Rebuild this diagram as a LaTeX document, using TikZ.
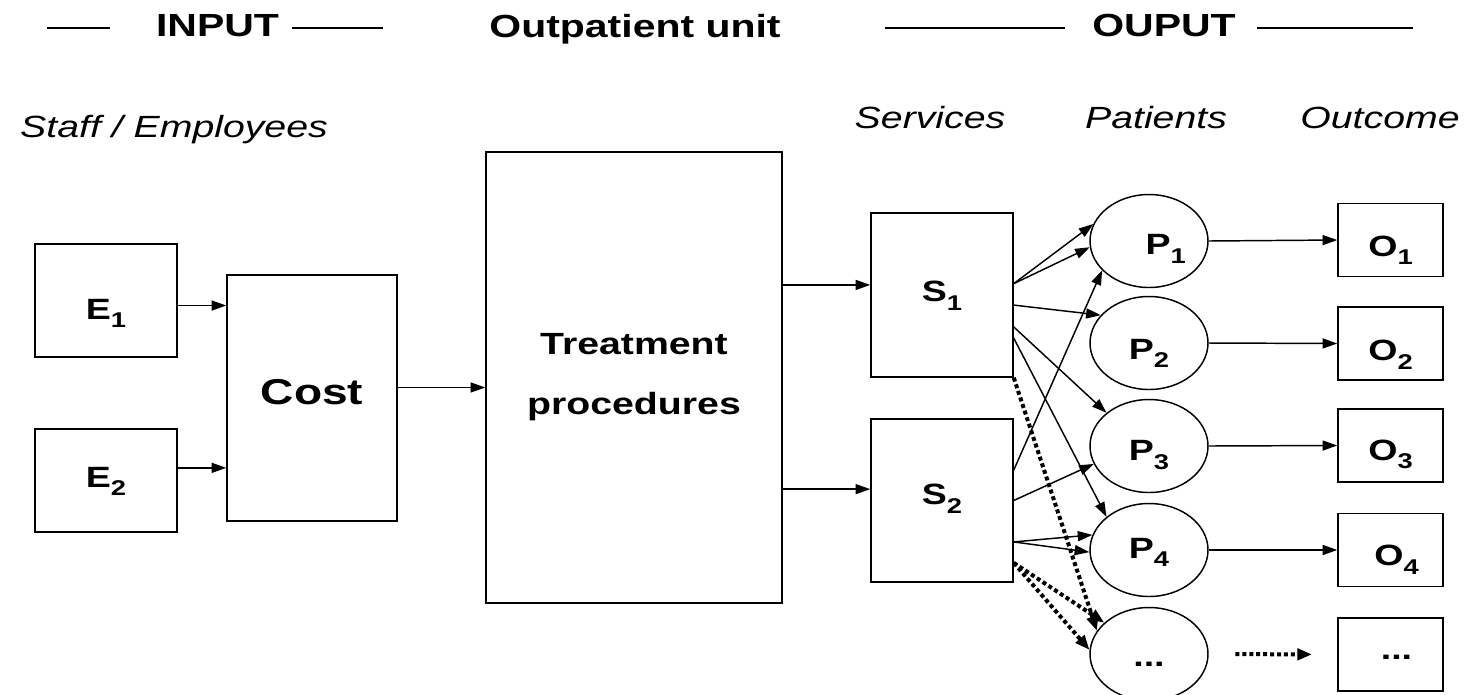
\documentclass[tikz,border=0pt]{standalone}
\usepackage{fontspec}
\setmainfont{Liberation Sans}
\usetikzlibrary{shapes.geometric}
\usetikzlibrary{arrows.meta}
\newcommand{\widetxt}[1]{\scalebox{1.28}[1]{#1}}
\newcommand{\boxlbl}[2]{\raisebox{#1}[0pt][0pt]{\widetxt{#2}}}
\newcommand{\sbs}[1]{\raisebox{-0.3em}{\fontsize{16}{18}\selectfont #1}}

\begin{document}
\begin{tikzpicture}[x=0.75pt,y=0.75pt,yscale=-1,xscale=1,
  box/.style={draw, line width=1.1pt, inner sep=0pt},
  lab/.style={font=\fontsize{22}{26}\selectfont\bfseries},
  pat/.style={ellipse, draw, line width=1.1pt, inner sep=0pt, minimum width=88.5pt, minimum height=69.75pt, lab},
  outc/.style={box, minimum width=78.75pt, minimum height=54.5pt, lab},
  arr/.style={line width=1.1pt, -{Triangle[length=11pt,width=7.5pt]}},
  dotarr/.style={line width=3pt, dash pattern=on 3pt off 2.2pt, -{Triangle[length=11pt,width=8.5pt]}},
  head/.style={font=\fontsize{24}{28}\selectfont\bfseries, anchor=base},
  sub/.style={font=\fontsize{23}{28}\selectfont\itshape, anchor=base}]
\useasboundingbox (0,0) rectangle (1472,694);

% Header
\draw[line width=1.1pt] (47,28) -- (110,28);
\node[head] (hin) at (217.5,36) {\widetxt{INPUT}};
\draw[line width=1.1pt] (292,28) -- (383,28);
\node[head] (hunit) at (635,37) {\widetxt{Outpatient unit}};
\draw[line width=1.1pt] (885,28) -- (1065,28);
\node[head] (hout) at (1164,36) {\widetxt{OUPUT}};
\draw[line width=1.1pt] (1257,28) -- (1413,28);

% Text Node
\node[sub] (staff) at (174,137) {\widetxt{Staff / Employees}};
\node[sub] (serv) at (930,128) {\widetxt{Services}};
\node[sub] (pats) at (1156,128) {\widetxt{Patients}};
\node[sub] (outcm) at (1380,128) {\widetxt{Outcome}};

% Input
\node[box, lab, minimum width=106.5pt, minimum height=84.75pt] (E1) at (106,300.5) {\boxlbl{-14pt}{E\sbs{1}}};
\node[box, lab, minimum width=106.5pt, minimum height=77.25pt] (E2) at (106,480.5) {\boxlbl{-5pt}{E\sbs{2}}};
\node[box, minimum width=127.5pt, minimum height=184.5pt, font=\fontsize{27}{32}\selectfont\bfseries] (cost) at (312,398) {\boxlbl{-4.6pt}{Cost}};
\node[box, align=center, minimum width=222pt, minimum height=338.25pt, font=\fontsize{23}{45}\selectfont\bfseries] (treat) at (634,377.5) {\widetxt{Treatment}\\\widetxt{procedures}};

% Services
\node[box, lab, minimum width=106.5pt, minimum height=123pt] (S1) at (942,295) {\boxlbl{-5pt}{S\sbs{1}}};
\node[box, lab, minimum width=106.5pt, minimum height=122.25pt] (S2) at (942,500.5) {\boxlbl{-3pt}{S\sbs{2}}};

% Patients
\node[pat] (P1) at (1149,241) {\hspace*{25pt}\boxlbl{-10pt}{P\sbs{1}}};
\node[pat] (P2) at (1149,343) {\boxlbl{-12pt}{P\sbs{2}}};
\node[pat] (P3) at (1149,446) {\boxlbl{-11pt}{P\sbs{3}}};
\node[pat] (P4) at (1149,550) {\boxlbl{-6pt}{P\sbs{4}}};
\node[pat] (P5) at (1149,654) {\boxlbl{-9pt}{...}};

% Outcome
\node[outc] (O1) at (1390.5,240) {\boxlbl{-12pt}{O\sbs{1}}};
\node[outc] (O2) at (1390.5,343.5) {\boxlbl{-13pt}{O\sbs{2}}};
\node[outc] (O3) at (1390.5,445.5) {\boxlbl{-11pt}{O\sbs{3}}};
\node[outc] (O4) at (1390.5,550) {\hspace*{9pt}\boxlbl{-11.5pt}{O\sbs{4}}};
\node[outc] (O5) at (1390.5,654.5) {\hspace*{9pt}\boxlbl{-4pt}{...}};

% Arrows
\draw[arr] (E1.356) -- (E1.356 -| cost.west);
\draw[arr] (E2.10) -- (E2.10 -| cost.west);
\draw[arr] (cost.7) -- (cost.7 -| treat.west);
\draw[arr] (treat.east |- S1.172) -- (S1.172);
\draw[arr] (treat.east |- S2.171) -- (S2.171);

\draw[arr] (S1.9) -- (P1.163);
\draw[arr] (S1.9) -- (P1.186);
\draw[arr] (S1.352) -- (P2.150);
\draw[arr] (S1.336) -- (P3.142);
\draw[arr] (S1.329) -- (P4.142);
\draw[arr] (S2.23) -- (P1.212);
\draw[arr] (S2.east) -- (P3.198);
\draw[arr] (S2.330) -- (P4.165);
\draw[arr] (S2.330) -- (P4.182);
\draw[dotarr] (S1.south east) -- (P5.156);
\draw[dotarr] (S2.319) -- (P5.145);
\draw[dotarr] (S2.319) -- (P5.176);

\foreach \i in {1,...,4}
  \draw[arr] (P\i.east) -- (O\i.west);
\draw[dotarr, shorten <=20pt, shorten >=19pt] (P5.east) -- (O5.west);

\end{tikzpicture}
\end{document}
